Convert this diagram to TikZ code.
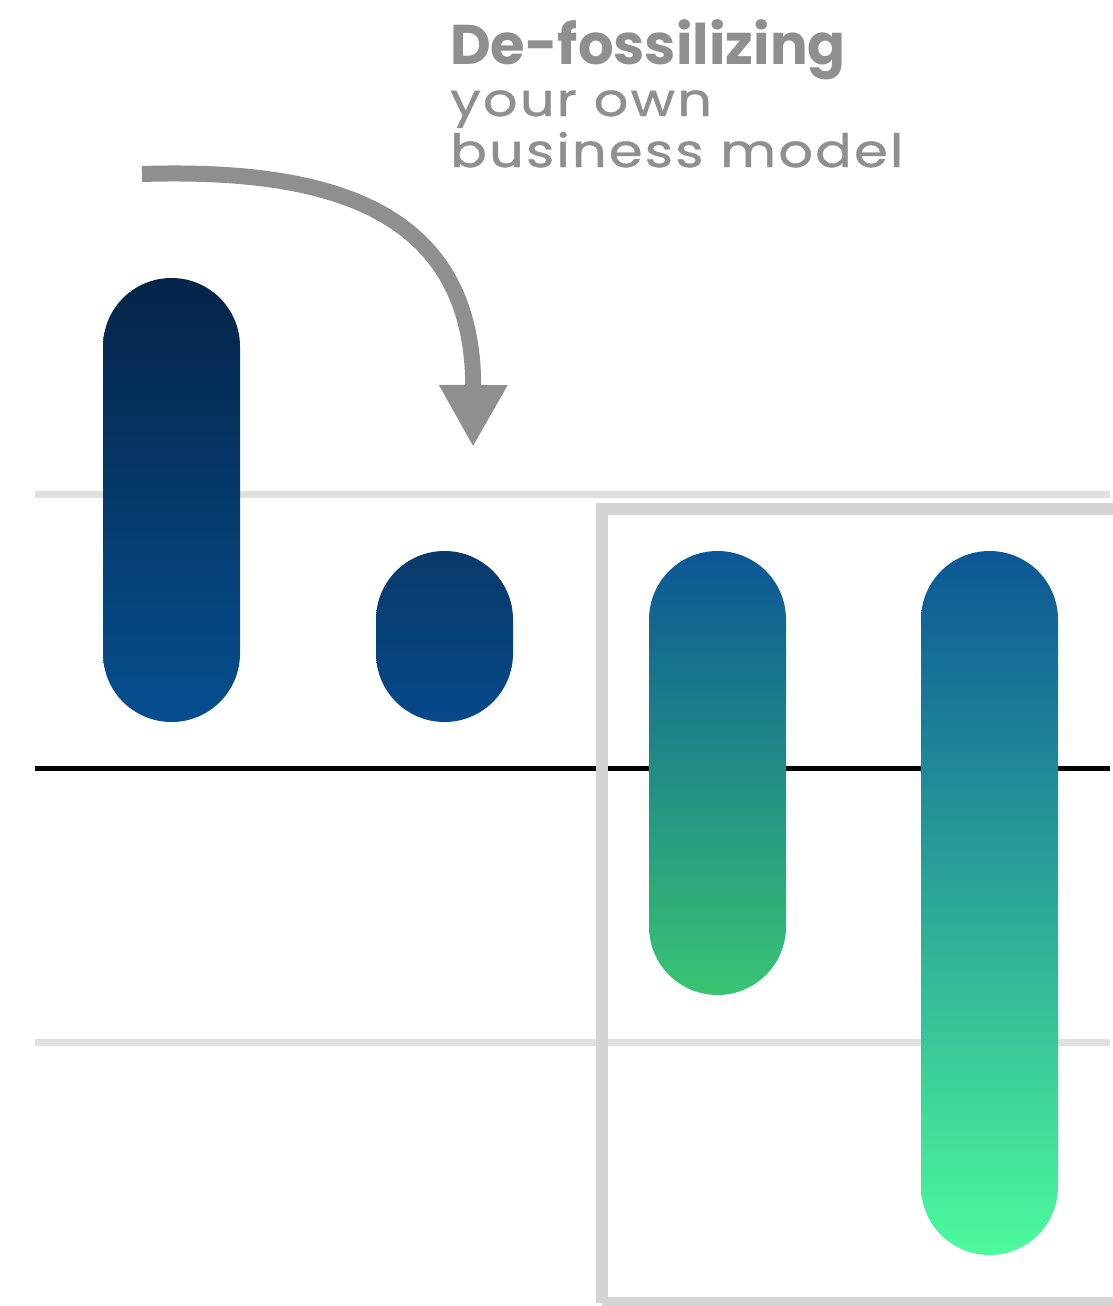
\documentclass[tikz,border=0pt]{standalone}
\usepackage{fontspec}
\setmainfont{Poppins}
\usetikzlibrary{arrows.meta}
\definecolor{txtgray}{HTML}{8F8F8F}
\definecolor{rulegray}{HTML}{E0E0E0}
\definecolor{boxgray}{HTML}{D4D4D4}
\newcommand{\subline}[1]{\scalebox{1.18}[1]{\addfontfeatures{LetterSpace=4,FakeBold=0.8}#1}}

\begin{document}
\begin{tikzpicture}[x=1pt,y=-1pt,
	pill/.style={draw=none,rounded corners=68.5pt,minimum width=137pt,inner sep=0pt},
	grid/.style={rulegray,line width=7pt},
	move/.style={txtgray,line width=16pt,-{Triangle[length=62pt,width=64pt]}},
	title/.style={txtgray,anchor=base west,inner sep=0pt}]
	\useasboundingbox (0,0) rectangle (1112,1306);

	\coordinate (gl) at (35,494);   \coordinate (gr) at (1110,494);
	\coordinate (hl) at (35,1042);  \coordinate (hr) at (1110,1042);
	\coordinate (zl) at (35,768);   \coordinate (zr) at (1110,768);
	\draw[grid] (gl) -- (gr);
	\draw[grid] (hl) -- (hr);
	\draw[black,line width=5pt] (zl) -- (zr);
	\draw[boxgray,line width=12pt] (602,1303) -- (602,509) -- (1140,509);
	\draw[boxgray,line width=12pt] (602,1303) -- (1140,1303);

	\node[pill,minimum height=444pt,top color={rgb,255:red,5;green,36;blue,72},
		bottom color={rgb,255:red,5;green,79;blue,143}] (old) at (171.5,500) {};
	\node[pill,minimum height=171pt,top color={rgb,255:red,9;green,57;blue,105},
		bottom color={rgb,255:red,6;green,73;blue,138}] (shrunk) at (444.5,636.5) {};
	\node[pill,minimum height=444pt,top color={rgb,255:red,11;green,86;blue,150},
		middle color={rgb,255:red,29;green,126;blue,128},
		bottom color={rgb,255:red,57;green,196;blue,115}] (newA) at (717.5,773) {};
	\node[pill,minimum height=704pt,top color={rgb,255:red,12;green,86;blue,149},
		middle color={rgb,255:red,35;green,153;blue,154},
		bottom color={rgb,255:red,77;green,250;blue,155}] (newB) at (989.5,903) {};

	\coordinate (from) at (142,174);
	\coordinate (to) at (473,447);
	\draw[move] (from) .. controls (335,168) and (474,212) .. (to);

	\node[title,font=\fontsize{56}{60}\selectfont\bfseries] (t1) at (450,65) {De-fossilizing};
	\node[title,font=\fontsize{46}{50}\selectfont] (t2) at (450,116) {\subline{your own}};
	\node[title,font=\fontsize{46}{50}\selectfont] (t3) at (450,167) {\subline{business model}};
\end{tikzpicture}
\end{document}
